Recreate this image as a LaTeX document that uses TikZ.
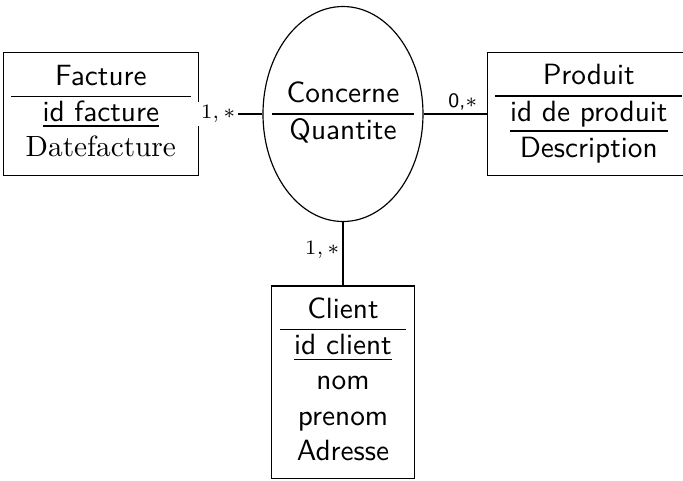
\documentclass[tikz,border=0pt]{standalone}
\usepackage{tikz}
\usetikzlibrary{positioning,shapes.geometric}
\setlength{\tabcolsep}{5pt}
\tikzstyle{entite} = [rectangle, draw, align=center, font=\sffamily, inner sep=2.7pt]
\tikzstyle{relation} = [ellipse, draw, minimum width=1.92cm, minimum height=2.58cm, inner sep=0pt]
\tikzstyle{card} = [font=\scriptsize, inner sep=1pt]

\begin{document}
\begin{tikzpicture}[node distance = 0.76cm]
    \useasboundingbox (-4.116,1.368) rectangle (4.08,-4.392);
    % Nodes
    \node [relation] (concerne) {};
    \node [font=\sffamily, inner sep=0pt] (concerne_txt) at (concerne) {\begin{tabular}{c}Concerne\\ \hline Quantite\end{tabular}};
    \node [entite, left=of concerne] (facture) {\begin{tabular}{c}Facture\\ \hline \underline{id facture}\\ \rmfamily Datefacture\end{tabular}};
    \node [entite, right=of concerne] (produit) {\begin{tabular}{c}Produit\\ \hline \underline{id de produit}\\ Description\end{tabular}};
    \node [entite, below=of concerne] (client) {\begin{tabular}{c}Client\\ \hline \underline{id client}\\ nom\\ prenom\\ Adresse\end{tabular}};

    % lines
    \draw (facture) -- node[card, fill=white, pos=0.3] {$1,*$} (concerne);
    \draw (concerne) -- node[card, above, pos=0.62] {\sffamily 0,$*$} (produit);
    \draw (concerne) -- node[card, left, pos=0.44] {$1,*$} (client);
\end{tikzpicture}
\end{document}
